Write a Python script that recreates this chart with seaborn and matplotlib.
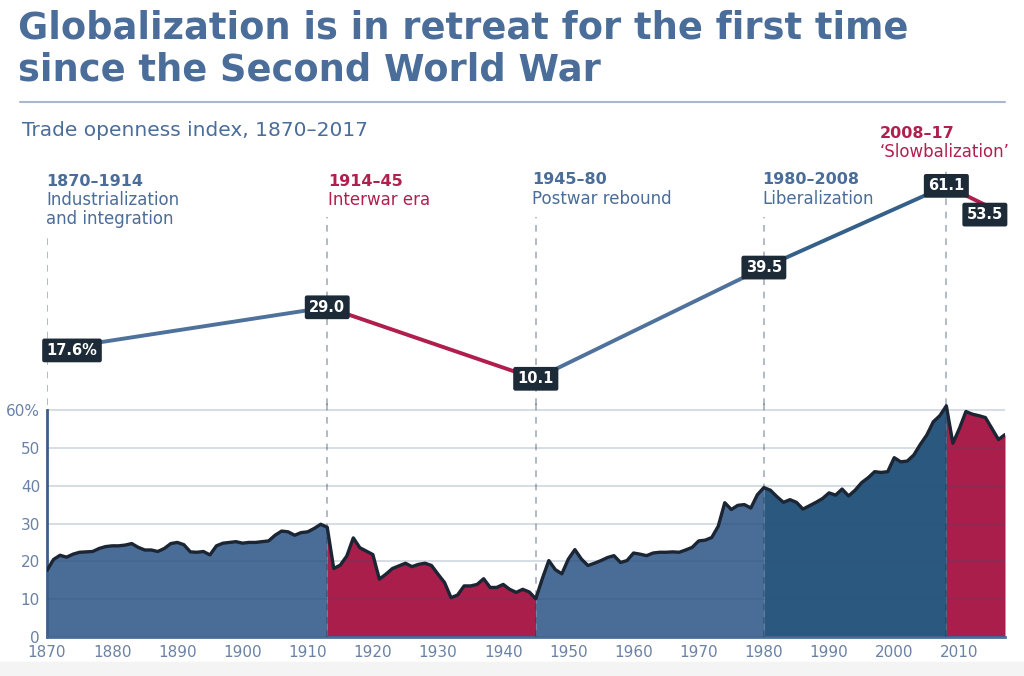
import numpy as np
import seaborn as sns
import matplotlib.pyplot as plt
from matplotlib.lines import Line2D
from matplotlib.patches import Rectangle

years = np.arange(1870, 2018)
openness = [
    17.6, 20.5, 21.6, 21.1, 21.9, 22.4, 22.5, 22.6, 23.4, 23.9,   # 1870s
    24.1, 24.1, 24.3, 24.7, 23.7, 23.0, 23.0, 22.6, 23.4, 24.7,   # 1880s
    25.0, 24.4, 22.5, 22.4, 22.6, 21.7, 24.1, 24.8, 25.0, 25.2,   # 1890s
    24.8, 25.0, 25.0, 25.2, 25.4, 26.9, 28.0, 27.8, 26.9, 27.6,   # 1900s
    27.8, 28.7, 29.8, 29.0, 18.1, 19.0, 21.4, 26.2, 23.6, 22.7,   # 1910s
    21.8, 15.3, 16.6, 18.1, 18.8, 19.5, 18.6, 19.2, 19.5, 18.9,   # 1920s
    16.6, 14.4, 10.4, 11.1, 13.5, 13.5, 13.9, 15.4, 13.1, 13.1,   # 1930s
    13.9, 12.6, 11.8, 12.6, 11.9, 10.1, 15.4, 20.2, 17.8, 16.7,   # 1940s
    20.6, 23.1, 20.6, 18.9, 19.5, 20.2, 21.0, 21.5, 19.7, 20.2,   # 1950s
    22.2, 21.9, 21.5, 22.2, 22.4, 22.4, 22.5, 22.4, 23.0, 23.7,   # 1960s
    25.4, 25.6, 26.3, 29.3, 35.5, 33.7, 34.8, 35.0, 34.1, 37.6,   # 1970s
    39.5, 38.8, 37.1, 35.6, 36.3, 35.6, 33.8, 34.7, 35.6, 36.6,   # 1980s
    38.1, 37.5, 39.1, 37.3, 38.8, 40.8, 42.1, 43.7, 43.5, 43.7,   # 1990s
    47.4, 46.3, 46.5, 48.1, 50.9, 53.4, 56.9, 58.5, 61.1, 51.2,   # 2000s
    55.1, 59.6, 58.9, 58.5, 58.0, 55.1, 52.2, 53.5,               # 2010s
]

era_starts = [1870, 1913, 1945, 1980, 2008]
era_ends = [1913, 1945, 1980, 2008, 2017]
era_names = ["1870–1914", "1914–45", "1945–80", "1980–2008", "2008–17"]
era_descs = ["Industrialization\nand integration", "Interwar era",
             "Postwar rebound", "Liberalization", "‘Slowbalization’"]

key_years = [1870, 1913, 1945, 1980, 2008, 2017]
key_values = [17.6, 29.0, 10.1, 39.5, 61.1, 53.5]
key_labels = ["17.6%", "29.0", "10.1", "39.5", "61.1", "53.5"]

BLUE = "#4a6d98"
DARK_BLUE = "#2b587e"
RED = "#a91e4a"
TEXT_BLUE = "#4a6d99"
TEXT_RED = "#b0204f"
NAVY = "#1b2533"
fill_colors = [BLUE, RED, BLUE, DARK_BLUE, RED]
line_colors = ["#4f729c", "#b01e4e", "#4f729c", "#34608a", "#b01e4e"]
name_colors = [TEXT_BLUE, TEXT_RED, TEXT_BLUE, TEXT_BLUE, TEXT_RED]

sns.set_theme(style="white")
plt.rcParams["font.family"] = ["DejaVu Sans"]

W, H = 1024, 676
fig = plt.figure(figsize=(W / 100, H / 100), dpi=100)


def fx(px):
    return px / W


def fy(py):
    return 1 - py / H


# scale: 3.783 px per percentage point, shared by both panels
PX = 3.783
x0, x1 = 47, 1005
ax = fig.add_axes([fx(x0), fy(637), (x1 - x0) / W, 62 * PX / H])
ax_top = fig.add_axes([fx(x0), fy(405), (x1 - x0) / W, 245 / H])
ax.set_xlim(1870, 2017)
ax.set_ylim(0, 62)
ax_top.set_xlim(1870, 2017)
ax_top.set_ylim((417 - 405) / PX, (417 - 160) / PX)

vals = np.array(openness)
for s, e, c in zip(era_starts, era_ends, fill_colors):
    m = (years >= s) & (years <= e)
    ax.fill_between(years[m], 0, vals[m], color=c, lw=0, zorder=1)
sns.lineplot(x=years, y=vals, color=NAVY, lw=2.4, ax=ax, zorder=3)

ax.set_yticks(range(0, 61, 10))
ax.set_yticklabels(["0", "10", "20", "30", "40", "50", "60%"])
ax.set_xticks(range(1870, 2011, 10))
ax.set_xticks(years, minor=True)
ax.grid(axis="y", color="#2d4f7c", alpha=0.25, lw=1.1)
ax.set_axisbelow(False)
ax.tick_params(axis="y", length=0, pad=5, labelsize=11, labelcolor="#6a82a5")
ax.tick_params(axis="x", which="major", direction="in", length=7, width=1.6,
               color="#dfe6f0", labelsize=11, labelcolor="#6a82a5", pad=6)
ax.tick_params(axis="x", which="minor", direction="in", length=3.5, width=1.2,
               color="#dfe6f0")
for side in ["top", "right"]:
    ax.spines[side].set_visible(False)
ax.spines["bottom"].set_color("#4b6e99")
ax.spines["bottom"].set_linewidth(2)
ax.spines["left"].set_color("#3d5f88")
ax.spines["left"].set_linewidth(2)
ax.spines["left"].set_bounds(0, 60)
ax.set_xlabel("")
ax.set_ylabel("")

for s in era_starts[1:]:
    ax.axvline(s, color="#1b3350", alpha=0.4, lw=1.2, ls=(0, (4, 4)), zorder=2.6)

# top panel: era averages joined by lines
for i in range(len(key_years) - 1):
    sns.lineplot(x=key_years[i:i + 2], y=key_values[i:i + 2],
                 color=line_colors[i], lw=2.8, ax=ax_top)
top_px = [235, 217, 217, 217, 165]
for s, t in zip(era_starts, top_px):
    ax_top.axvline(s, ymin=0, ymax=(405 - t) / 245, color="#1b3350", alpha=0.4,
                   lw=1.2, ls=(0, (4, 4)), zorder=1)
offsets = [18, 0, 0, 0, 0, -14.5]
for yr, v, lab, dx in zip(key_years, key_values, key_labels, offsets):
    ax_top.annotate(lab, (yr, v), xytext=(dx, 0), textcoords="offset points",
                    ha="center", va="center", color="white", fontsize=10.5,
                    fontweight="bold", zorder=5,
                    bbox=dict(boxstyle="round,pad=0.3,rounding_size=0.15",
                              fc="#1d2a38", ec="none"))
ax_top.axis("off")

# era labels
name_pos = [(46, 181), (328, 181), (532, 180), (762, 180), (880, 133)]
for (px, py), nm, desc, c in zip(name_pos, era_names, era_descs, name_colors):
    fig.text(fx(px), fy(py), nm, color=c, fontsize=11.5, fontweight="bold",
             va="center", ha="left")
    fig.text(fx(px), fy(py + 10), desc, color=c, fontsize=12,
             va="top", ha="left", linespacing=1.05)

# title block
fig.text(fx(18), fy(28), "Globalization is in retreat for the first time",
         color=TEXT_BLUE, fontsize=26.5, fontweight="bold", va="center")
fig.text(fx(18), fy(70), "since the Second World War",
         color=TEXT_BLUE, fontsize=26.5, fontweight="bold", va="center")
fig.add_artist(Line2D([fx(20), fx(1005)], [fy(102), fy(102)],
                      color="#a9b8cc", lw=1.5))
fig.text(fx(22), fy(130), "Trade openness index, 1870–2017",
         color=TEXT_BLUE, fontsize=14.5, va="center")
fig.patches.append(Rectangle((0, 0), 1, 14 / H, transform=fig.transFigure,
                             color="#f4f4f4", zorder=-1))

fig.savefig("out.png", dpi=100)
